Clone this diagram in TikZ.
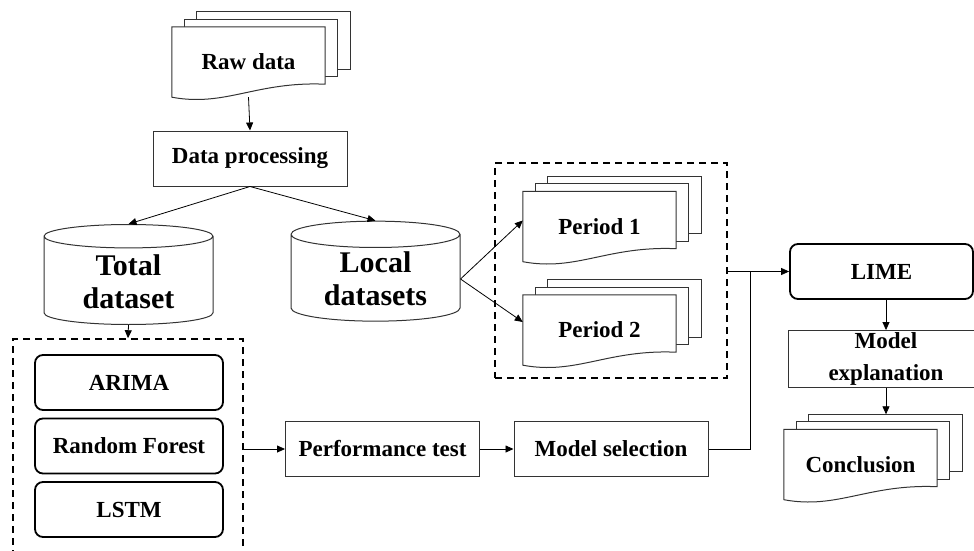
\documentclass[tikz,border=0pt]{standalone}
\usepackage{fontspec}
\setmainfont{Liberation Serif}
\usetikzlibrary{shapes.geometric, arrows.meta, positioning, fit, backgrounds, calc}

% stacked document sheets behind a doc node
\newcommand{\docsheets}[1]{%
  \begin{scope}[on background layer]
    \foreach \k in {2,1}
      \draw[sheet] ([shift={(12.5*\k,-7.5*\k)}]#1.north west) rectangle ([shift={(12.5*\k,-7.5*\k-13)}]#1.south east);
    \draw[sheet] (#1.north west) -- (#1.north east) -- ([yshift=13pt]#1.south east)
      .. controls ($(#1.south west)!0.55!(#1.south east)+(0,-16)$) and ($(#1.south west)!0.35!(#1.south east)+(0,10)$) .. (#1.south west) -- cycle;
  \end{scope}}

\begin{document}
\begin{tikzpicture}[
    x=1pt, y=-1pt,
    font=\bfseries\fontsize{23}{32}\selectfont,
    stepbox/.style={rectangle, draw=black!80, line width=1pt, minimum width=194pt, minimum height=55pt, align=center, inner sep=2pt},
    model/.style={rectangle, rounded corners=8pt, draw=black, line width=1.8pt, minimum width=188pt, minimum height=55pt},
    doc/.style={rectangle, minimum width=153pt, minimum height=70pt, inner sep=0pt},
    sheet/.style={draw=black!80, line width=1pt, fill=white},
    store/.style={cylinder, shape border rotate=90, aspect=0.25, draw=black!80, line width=1pt, minimum width=169pt, minimum height=100pt, align=center, inner sep=1pt, font=\bfseries\fontsize{30}{33}\selectfont},
    group/.style={draw=black, line width=1.5pt, dash pattern=on 7pt off 5pt, inner sep=0pt},
    arrow/.style={-{Triangle[length=8pt, width=7pt]}, line width=0.8pt}
]
    \useasboundingbox (0,0) rectangle (974,551);
    \clip (0,0) rectangle (974,551);

    \node[doc] (raw) at (248.5,62) {Raw data};
    \node[stepbox] (proc) at (250,158.5) {Data processing};
    \node[store] (total) at (128.5,281.5) {Total\\dataset};
    \node[store] (local) at (375.5,279) {Local\\datasets};

    \node[model] (arima) at (129,382.5) {ARIMA};
    \node[model] (rf) at (129,446) {Random Forest};
    \node[model] (lstm) at (129,509.5) {LSTM};
    \node[group, fit={(13,339) (243,580)}] (models) {};

    \node[stepbox] (perf) at (382.5,449) {Performance test};
    \node[stepbox] (msel) at (611,449) {Model selection};

    \node[doc] (p1) at (599.5,226.5) {Period 1};
    \node[doc] (p2) at (599.5,330) {Period 2};
    \node[group, fit={(495,163) (727,378)}] (periods) {};

    \node[model, minimum width=183pt] (lime) at (881.5,271.5) {LIME};
    \node[stepbox, minimum width=196pt] (expl) at (886,359) {Model\\explanation};
    \node[doc] (concl) at (860.5,464.5) {Conclusion};

    \docsheets{raw}
    \docsheets{p1}
    \docsheets{p2}
    \docsheets{concl}

    \draw[arrow] (raw.south) -- (proc.north);
    \draw[arrow] (proc.south) -- (total.north);
    \draw[arrow] (proc.south) -- (local.north);
    \draw[arrow] (total.south) -- (models.north);
    \draw[arrow] (local.east) -- ([yshift=6pt]p1.west);
    \draw[arrow] (local.east) -- ([yshift=8pt]p2.west);
    \draw[arrow] (models.east |- perf.west) -- (perf.west);
    \draw[arrow] (perf) -- (msel);
    \coordinate (join) at (750,271.5);
    \draw[line width=0.8pt] (msel.east) -| (join);
    \draw[arrow] (periods.east |- lime.west) -- (lime.west);
    \draw[arrow] (lime.south -| expl.north) -- (expl.north);
    \draw[arrow] (expl.south) -- ($(expl.south |- concl.north)+(0,-15)$);
\end{tikzpicture}
\end{document}
